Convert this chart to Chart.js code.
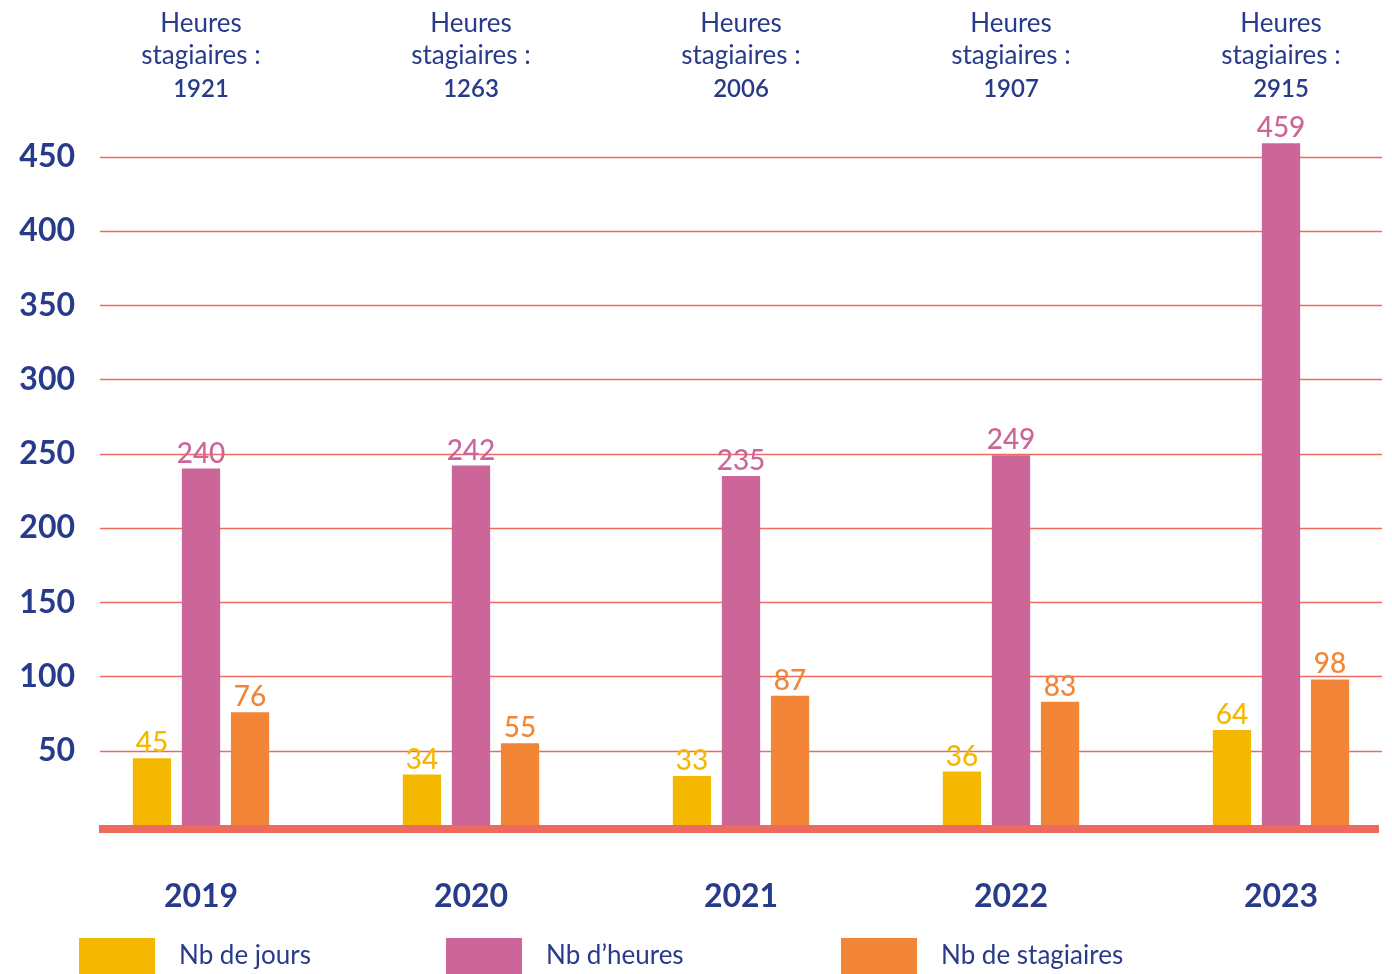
<!DOCTYPE html>
<html lang="fr">
<head>
<meta charset="utf-8">
<title>Heures stagiaires</title>
<script src="https://cdn.jsdelivr.net/npm/chart.js@4.4.0/dist/chart.umd.min.js"></script>
<style>
  html, body { margin: 0; padding: 0; background: #fff; }
  #wrap { position: relative; width: 1392px; height: 974px; }
</style>
</head>
<body>
<div id="wrap"><canvas id="chart"></canvas></div>
<script>
// Data
const years = ['2019', '2020', '2021', '2022', '2023'];
const nbJours = [45, 34, 33, 36, 64];
const nbHeures = [240, 242, 235, 249, 459];
const nbStagiaires = [76, 55, 87, 83, 98];
const heuresStagiaires = [1921, 1263, 2006, 1907, 2915];
const yTicks = [50, 100, 150, 200, 250, 300, 350, 400, 450];

const NAVY = '#283B8B';
const YELLOW = '#F5B800';
const PINK = '#CC6699';
const ORANGE = '#F28536';
const GRID = '#EE6A5E';
const FONT = 'Lato, "Open Sans", sans-serif';

// Grid, baseline, value labels, top notes and legend
const decor = {
  id: 'decor',
  beforeDatasetsDraw(chart) {
    const { ctx, scales: { y } } = chart;
    ctx.save();
    ctx.strokeStyle = GRID;
    ctx.lineWidth = 1.5;
    yTicks.forEach((v) => {
      const py = Math.round(y.getPixelForValue(v)) + 0.5;
      ctx.beginPath();
      ctx.moveTo(100, py);
      ctx.lineTo(1382, py);
      ctx.stroke();
    });
    ctx.restore();
  },
  afterDatasetsDraw(chart) {
    const { ctx, scales: { x, y } } = chart;
    ctx.save();
    // thick baseline under the bars
    const y0 = y.getPixelForValue(0);
    ctx.fillStyle = GRID;
    ctx.fillRect(99, y0, 1280, 8);

    // values above bars
    ctx.textAlign = 'center';
    ctx.textBaseline = 'bottom';
    ctx.font = '500 28px ' + FONT;
    chart.data.datasets.forEach((ds, i) => {
      const meta = chart.getDatasetMeta(i);
      ctx.fillStyle = ds.backgroundColor;
      meta.data.forEach((bar, j) => {
        ctx.fillText(ds.data[j], bar.x, bar.y - 1);
      });
    });

    // "Heures stagiaires" notes at the top
    ctx.fillStyle = NAVY;
    ctx.textBaseline = 'middle';
    years.forEach((yr, i) => {
      const px = x.getPixelForValue(i);
      ctx.font = '26px ' + FONT;
      ctx.fillText('Heures', px, 24);
      ctx.fillText('stagiaires :', px, 56);
      ctx.font = '600 24px ' + FONT;
      ctx.fillText(heuresStagiaires[i], px, 89);
    });

    // legend
    const legendX = [79, 446, 841];
    ctx.textAlign = 'left';
    ctx.font = '26px ' + FONT;
    chart.data.datasets.forEach((ds, i) => {
      ctx.fillStyle = ds.backgroundColor;
      ctx.fillRect(legendX[i], 938, 76, 36);
      ctx.fillStyle = NAVY;
      ctx.fillText(ds.label, legendX[i] + 100, 956);
    });
    ctx.restore();
  }
};

const ctx = document.getElementById('chart').getContext('2d');

new Chart(ctx, {
  type: 'bar',
  data: {
    labels: years,
    datasets: [
      { label: 'Nb de jours', data: nbJours, backgroundColor: YELLOW, clip: false },
      { label: 'Nb d\u2019heures', data: nbHeures, backgroundColor: PINK, clip: false },
      { label: 'Nb de stagiaires', data: nbStagiaires, backgroundColor: ORANGE, clip: false }
    ]
  },
  options: {
    responsive: true,
    maintainAspectRatio: false,
    animation: false,
    categoryPercentage: 0.545,
    barPercentage: 0.78,
    layout: { padding: { top: 127, right: 111, bottom: 59, left: 0 } },
    plugins: {
      legend: { display: false },
      tooltip: { enabled: false }
    },
    scales: {
      x: {
        offset: false,
        grid: { display: false, drawTicks: false },
        border: { display: false },
        afterFit: (scale) => { scale.height = 90; },
        ticks: {
          color: NAVY,
          padding: 52,
          font: { family: FONT, size: 32, weight: 'bold' }
        }
      },
      y: {
        min: 0,
        max: 470,
        grid: { display: false, drawTicks: false },
        border: { display: false },
        afterFit: (scale) => {
          scale.width = 201;
          scale.paddingTop = 0;
          scale.paddingBottom = 0;
        },
        afterBuildTicks: (scale) => { scale.ticks = yTicks.map((v) => ({ value: v })); },
        ticks: {
          color: NAVY,
          padding: 126,
          font: { family: FONT, size: 32, weight: 'bold' }
        }
      }
    }
  },
  plugins: [decor]
});
</script>
</body>
</html>
